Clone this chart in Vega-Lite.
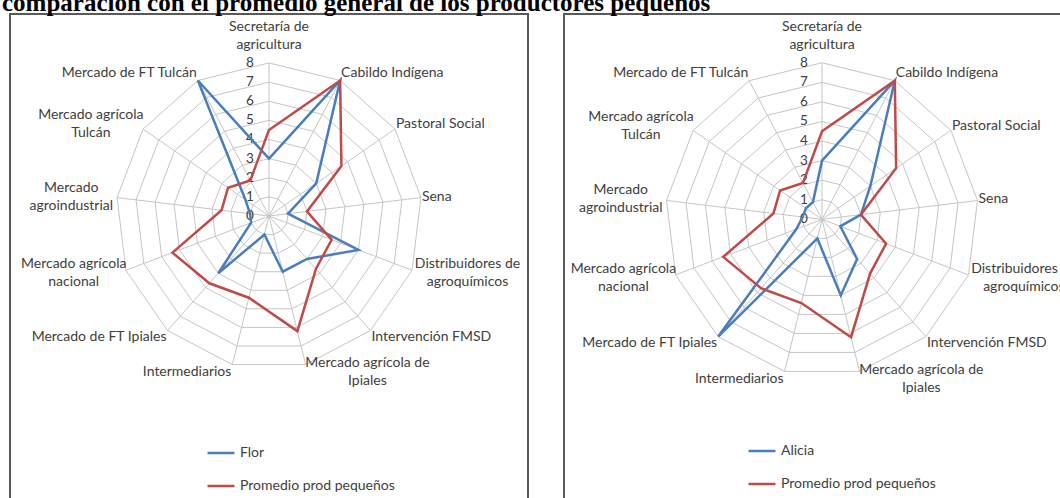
{
  "$schema": "https://vega.github.io/schema/vega-lite/v6.json",
  "padding": {"left": 2, "top": -9, "right": 0, "bottom": 0},
  "title": {"text": "comparación con el promedio general de los productores pequeños", "anchor": "start", "frame": "bounds", "font": "Liberation Serif", "fontSize": 25, "fontWeight": "bold", "color": "#000000", "offset": -3, "dx": -7},
  "config": {
    "view": {"stroke": "#595959", "strokeWidth": 2},
    "font": "Lato",
    "legend": {"orient": "none", "title": null, "symbolType": "stroke", "symbolStrokeWidth": 2.5, "symbolSize": 729, "labelFont": "Lato", "labelFontSize": 14, "labelColor": "#404040", "rowPadding": 11, "labelOffset": 4, "padding": 0}
  },
  "datasets": {
    "cats": [
      {"idx": 0, "cat": "Secretaría de\nagricultura", "lv": [1,2,3,4,5,6,7,8]},
      {"idx": 1, "cat": "Cabildo Indígena", "lv": [1,2,3,4,5,6,7,8]},
      {"idx": 2, "cat": "Pastoral Social", "lv": [1,2,3,4,5,6,7,8]},
      {"idx": 3, "cat": "Sena", "lv": [1,2,3,4,5,6,7,8]},
      {"idx": 4, "cat": "Distribuidores de\nagroquímicos", "lv": [1,2,3,4,5,6,7,8]},
      {"idx": 5, "cat": "Intervención FMSD", "lv": [1,2,3,4,5,6,7,8]},
      {"idx": 6, "cat": "Mercado agrícola de\nIpiales", "lv": [1,2,3,4,5,6,7,8]},
      {"idx": 7, "cat": "Intermediarios", "lv": [1,2,3,4,5,6,7,8]},
      {"idx": 8, "cat": "Mercado de FT Ipiales", "lv": [1,2,3,4,5,6,7,8]},
      {"idx": 9, "cat": "Mercado agrícola\nnacional", "lv": [1,2,3,4,5,6,7,8]},
      {"idx": 10, "cat": "Mercado\nagroindustrial", "lv": [1,2,3,4,5,6,7,8]},
      {"idx": 11, "cat": "Mercado agrícola\nTulcán", "lv": [1,2,3,4,5,6,7,8]},
      {"idx": 12, "cat": "Mercado de FT Tulcán", "lv": [1,2,3,4,5,6,7,8]}
    ],
    "ticks": [{"t": 0}, {"t": 1}, {"t": 2}, {"t": 3}, {"t": 4}, {"t": 5}, {"t": 6}, {"t": 7}, {"t": 8}],
    "flor": [
      {"idx": 0, "serie": "Flor", "v": 3},
      {"idx": 1, "serie": "Flor", "v": 8},
      {"idx": 2, "serie": "Flor", "v": 3},
      {"idx": 3, "serie": "Flor", "v": 1},
      {"idx": 4, "serie": "Flor", "v": 5},
      {"idx": 5, "serie": "Flor", "v": 3},
      {"idx": 6, "serie": "Flor", "v": 3},
      {"idx": 7, "serie": "Flor", "v": 1},
      {"idx": 8, "serie": "Flor", "v": 4},
      {"idx": 9, "serie": "Flor", "v": 1},
      {"idx": 10, "serie": "Flor", "v": 1},
      {"idx": 11, "serie": "Flor", "v": 1.5},
      {"idx": 12, "serie": "Flor", "v": 8},
      {"idx": 0, "serie": "Promedio prod pequeños", "v": 4.5},
      {"idx": 1, "serie": "Promedio prod pequeños", "v": 8},
      {"idx": 2, "serie": "Promedio prod pequeños", "v": 4.6},
      {"idx": 3, "serie": "Promedio prod pequeños", "v": 2},
      {"idx": 4, "serie": "Promedio prod pequeños", "v": 3.5},
      {"idx": 5, "serie": "Promedio prod pequeños", "v": 3.7},
      {"idx": 6, "serie": "Promedio prod pequeños", "v": 6.2},
      {"idx": 7, "serie": "Promedio prod pequeños", "v": 4.4},
      {"idx": 8, "serie": "Promedio prod pequeños", "v": 4.7},
      {"idx": 9, "serie": "Promedio prod pequeños", "v": 5.4},
      {"idx": 10, "serie": "Promedio prod pequeños", "v": 2.5},
      {"idx": 11, "serie": "Promedio prod pequeños", "v": 2.6},
      {"idx": 12, "serie": "Promedio prod pequeños", "v": 2.1}
    ],
    "alicia": [
      {"idx": 0, "serie": "Alicia", "v": 3},
      {"idx": 1, "serie": "Alicia", "v": 8},
      {"idx": 2, "serie": "Alicia", "v": 3},
      {"idx": 3, "serie": "Alicia", "v": 2},
      {"idx": 4, "serie": "Alicia", "v": 1},
      {"idx": 5, "serie": "Alicia", "v": 2.7},
      {"idx": 6, "serie": "Alicia", "v": 4},
      {"idx": 7, "serie": "Alicia", "v": 1},
      {"idx": 8, "serie": "Alicia", "v": 8},
      {"idx": 9, "serie": "Alicia", "v": 1.4},
      {"idx": 10, "serie": "Alicia", "v": 1},
      {"idx": 11, "serie": "Alicia", "v": 1},
      {"idx": 12, "serie": "Alicia", "v": 1},
      {"idx": 0, "serie": "Promedio prod pequeños", "v": 4.5},
      {"idx": 1, "serie": "Promedio prod pequeños", "v": 8},
      {"idx": 2, "serie": "Promedio prod pequeños", "v": 4.6},
      {"idx": 3, "serie": "Promedio prod pequeños", "v": 2},
      {"idx": 4, "serie": "Promedio prod pequeños", "v": 3.5},
      {"idx": 5, "serie": "Promedio prod pequeños", "v": 3.7},
      {"idx": 6, "serie": "Promedio prod pequeños", "v": 6.2},
      {"idx": 7, "serie": "Promedio prod pequeños", "v": 4.4},
      {"idx": 8, "serie": "Promedio prod pequeños", "v": 4.7},
      {"idx": 9, "serie": "Promedio prod pequeños", "v": 5.4},
      {"idx": 10, "serie": "Promedio prod pequeños", "v": 2.5},
      {"idx": 11, "serie": "Promedio prod pequeños", "v": 2.6},
      {"idx": 12, "serie": "Promedio prod pequeños", "v": 2.1}
    ]
  },
  "resolve": {"scale": {"color": "independent", "x": "independent", "y": "independent"}, "legend": {"color": "independent"}},
  "spacing": 34,
  "hconcat": [
    {
      "width": 518, "height": 500,
      "encoding": {
        "x": {"field": "x", "type": "quantitative", "scale": {"domain": [-13.54, 13.54], "nice": false, "zero": false}, "axis": null},
        "y": {"field": "y", "type": "quantitative", "scale": {"domain": [-15.58, 10.56], "nice": false, "zero": false}, "axis": null}
      },
      "layer": [
        {
          "data": {"name": "cats"},
          "transform": [
            {"flatten": ["lv"]},
            {"calculate": "datum.idx * 2 * PI / 13", "as": "a"},
            {"calculate": "datum.lv * sin(datum.a)", "as": "x"},
            {"calculate": "datum.lv * cos(datum.a)", "as": "y"}
          ],
          "mark": {"type": "line", "interpolate": "linear-closed", "stroke": "#C6C6C6", "strokeWidth": 1},
          "encoding": {"detail": {"field": "lv", "type": "nominal"}, "order": {"field": "idx", "type": "quantitative"}}
        },
        {
          "data": {"name": "cats"},
          "transform": [
            {"calculate": "datum.idx * 2 * PI / 13", "as": "a"},
            {"calculate": "8 * sin(datum.a)", "as": "x"},
            {"calculate": "8 * cos(datum.a)", "as": "y"}
          ],
          "mark": {"type": "rule", "stroke": "#C6C6C6", "strokeWidth": 1},
          "encoding": {"x2": {"datum": 0}, "y2": {"datum": 0}}
        },
        {
          "data": {"name": "ticks"},
          "transform": [
            {"calculate": "0", "as": "x"},
            {"calculate": "datum.t", "as": "y"}
          ],
          "mark": {"type": "text", "dx": -19, "align": "center", "baseline": "middle", "fontSize": 13.5, "font": "Lato", "color": "#404040"},
          "encoding": {"text": {"field": "t", "type": "quantitative"}}
        },
        {
          "data": {"name": "cats"},
          "transform": [
            {"filter": "datum.idx >= 1 && datum.idx <= 6 && indexof(datum.cat, '\\n') < 0"},
            {"calculate": "datum.idx * 2 * PI / 13", "as": "a"},
            {"calculate": "8 * sin(datum.a)", "as": "x"},
            {"calculate": "8.42 * cos(datum.a)", "as": "y"}
          ],
          "mark": {"type": "text", "align": "left", "baseline": "middle", "dx": 1, "fontSize": 14, "font": "Lato", "color": "#404040"},
          "encoding": {"text": {"field": "cat", "type": "nominal"}}
        },
        {
          "data": {"name": "cats"},
          "transform": [
            {"filter": "datum.idx >= 7 && indexof(datum.cat, '\\n') < 0"},
            {"calculate": "datum.idx * 2 * PI / 13", "as": "a"},
            {"calculate": "8 * sin(datum.a)", "as": "x"},
            {"calculate": "8.42 * cos(datum.a)", "as": "y"}
          ],
          "mark": {"type": "text", "align": "right", "baseline": "middle", "dx": -1, "fontSize": 14, "font": "Lato", "color": "#404040"},
          "encoding": {"text": {"field": "cat", "type": "nominal"}}
        },
        {
          "data": {"name": "cats"},
          "transform": [
            {"filter": "datum.idx >= 1 && indexof(datum.cat, '\\n') >= 0"},
            {"calculate": "datum.idx * 2 * PI / 13", "as": "a"},
            {"calculate": "max(length(split(datum.cat, '\\n')[0]), length(split(datum.cat, '\\n')[1]))", "as": "L"},
            {"calculate": "8 * sin(datum.a) + (sin(datum.a) > 0 ? 1 : -1) * (datum.L * 6.4 / 2 + 1) / 19.125", "as": "x"},
            {"calculate": "8.42 * cos(datum.a)", "as": "y"}
          ],
          "mark": {"type": "text", "align": "center", "baseline": "middle", "dy": -9, "lineBreak": "\n", "lineHeight": 18, "fontSize": 14, "font": "Lato", "color": "#404040"},
          "encoding": {"text": {"field": "cat", "type": "nominal"}}
        },
        {
          "data": {"name": "cats"},
          "transform": [
            {"filter": "datum.idx == 0"},
            {"calculate": "0", "as": "x"},
            {"calculate": "8", "as": "y"}
          ],
          "mark": {"type": "text", "align": "center", "baseline": "middle", "dy": -36, "lineBreak": "\n", "lineHeight": 18, "fontSize": 14, "font": "Lato", "color": "#404040"},
          "encoding": {"text": {"field": "cat", "type": "nominal"}}
        },
        {
          "data": {"name": "flor"},
          "transform": [
            {"calculate": "datum.idx * 2 * PI / 13", "as": "a"},
            {"calculate": "datum.v * sin(datum.a)", "as": "x"},
            {"calculate": "datum.v * cos(datum.a)", "as": "y"}
          ],
          "mark": {"type": "line", "interpolate": "linear-closed", "strokeWidth": 2.5},
          "encoding": {
            "color": {"field": "serie", "type": "nominal", "scale": {"domain": ["Flor", "Promedio prod pequeños"], "range": ["#4A7EBB", "#BE4B48"]}, "legend": {"legendX": 196, "legendY": 424}},
            "order": {"field": "idx", "type": "quantitative"}
          }
        }
      ]
    },
    {
      "width": 518, "height": 500,
      "encoding": {
        "x": {"field": "x", "type": "quantitative", "scale": {"domain": [-13.18, 13.28], "nice": false, "zero": false}, "axis": null},
        "y": {"field": "y", "type": "quantitative", "scale": {"domain": [-15.05, 10.49], "nice": false, "zero": false}, "axis": null}
      },
      "layer": [
        {
          "data": {"name": "cats"},
          "transform": [
            {"flatten": ["lv"]},
            {"calculate": "datum.idx * 2 * PI / 13", "as": "a"},
            {"calculate": "datum.lv * sin(datum.a)", "as": "x"},
            {"calculate": "datum.lv * cos(datum.a)", "as": "y"}
          ],
          "mark": {"type": "line", "interpolate": "linear-closed", "stroke": "#C6C6C6", "strokeWidth": 1},
          "encoding": {"detail": {"field": "lv", "type": "nominal"}, "order": {"field": "idx", "type": "quantitative"}}
        },
        {
          "data": {"name": "cats"},
          "transform": [
            {"calculate": "datum.idx * 2 * PI / 13", "as": "a"},
            {"calculate": "8 * sin(datum.a)", "as": "x"},
            {"calculate": "8 * cos(datum.a)", "as": "y"}
          ],
          "mark": {"type": "rule", "stroke": "#C6C6C6", "strokeWidth": 1},
          "encoding": {"x2": {"datum": 0}, "y2": {"datum": 0}}
        },
        {
          "data": {"name": "ticks"},
          "transform": [
            {"calculate": "0", "as": "x"},
            {"calculate": "datum.t", "as": "y"}
          ],
          "mark": {"type": "text", "dx": -18, "align": "center", "baseline": "middle", "fontSize": 13.5, "font": "Lato", "color": "#404040"},
          "encoding": {"text": {"field": "t", "type": "quantitative"}}
        },
        {
          "data": {"name": "cats"},
          "transform": [
            {"filter": "datum.idx >= 1 && datum.idx <= 6 && indexof(datum.cat, '\\n') < 0"},
            {"calculate": "datum.idx * 2 * PI / 13", "as": "a"},
            {"calculate": "8 * sin(datum.a)", "as": "x"},
            {"calculate": "8.42 * cos(datum.a)", "as": "y"}
          ],
          "mark": {"type": "text", "align": "left", "baseline": "middle", "dx": 1, "fontSize": 14, "font": "Lato", "color": "#404040"},
          "encoding": {"text": {"field": "cat", "type": "nominal"}}
        },
        {
          "data": {"name": "cats"},
          "transform": [
            {"filter": "datum.idx >= 7 && indexof(datum.cat, '\\n') < 0"},
            {"calculate": "datum.idx * 2 * PI / 13", "as": "a"},
            {"calculate": "8 * sin(datum.a)", "as": "x"},
            {"calculate": "8.42 * cos(datum.a)", "as": "y"}
          ],
          "mark": {"type": "text", "align": "right", "baseline": "middle", "dx": -1, "fontSize": 14, "font": "Lato", "color": "#404040"},
          "encoding": {"text": {"field": "cat", "type": "nominal"}}
        },
        {
          "data": {"name": "cats"},
          "transform": [
            {"filter": "datum.idx >= 1 && indexof(datum.cat, '\\n') >= 0"},
            {"calculate": "datum.idx * 2 * PI / 13", "as": "a"},
            {"calculate": "max(length(split(datum.cat, '\\n')[0]), length(split(datum.cat, '\\n')[1]))", "as": "L"},
            {"calculate": "8 * sin(datum.a) + (sin(datum.a) > 0 ? 1 : -1) * (datum.L * 6.4 / 2 + 1) / 19.575", "as": "x"},
            {"calculate": "8.42 * cos(datum.a)", "as": "y"}
          ],
          "mark": {"type": "text", "align": "center", "baseline": "middle", "dy": -9, "lineBreak": "\n", "lineHeight": 18, "fontSize": 14, "font": "Lato", "color": "#404040"},
          "encoding": {"text": {"field": "cat", "type": "nominal"}}
        },
        {
          "data": {"name": "cats"},
          "transform": [
            {"filter": "datum.idx == 0"},
            {"calculate": "0", "as": "x"},
            {"calculate": "8", "as": "y"}
          ],
          "mark": {"type": "text", "align": "center", "baseline": "middle", "dy": -36, "lineBreak": "\n", "lineHeight": 18, "fontSize": 14, "font": "Lato", "color": "#404040"},
          "encoding": {"text": {"field": "cat", "type": "nominal"}}
        },
        {
          "data": {"name": "alicia"},
          "transform": [
            {"calculate": "datum.idx * 2 * PI / 13", "as": "a"},
            {"calculate": "datum.v * sin(datum.a)", "as": "x"},
            {"calculate": "datum.v * cos(datum.a)", "as": "y"}
          ],
          "mark": {"type": "line", "interpolate": "linear-closed", "strokeWidth": 2.5},
          "encoding": {
            "color": {"field": "serie", "type": "nominal", "scale": {"domain": ["Alicia", "Promedio prod pequeños"], "range": ["#4A7EBB", "#BE4B48"]}, "legend": {"legendX": 183, "legendY": 422}},
            "order": {"field": "idx", "type": "quantitative"}
          }
        }
      ]
    }
  ]
}
